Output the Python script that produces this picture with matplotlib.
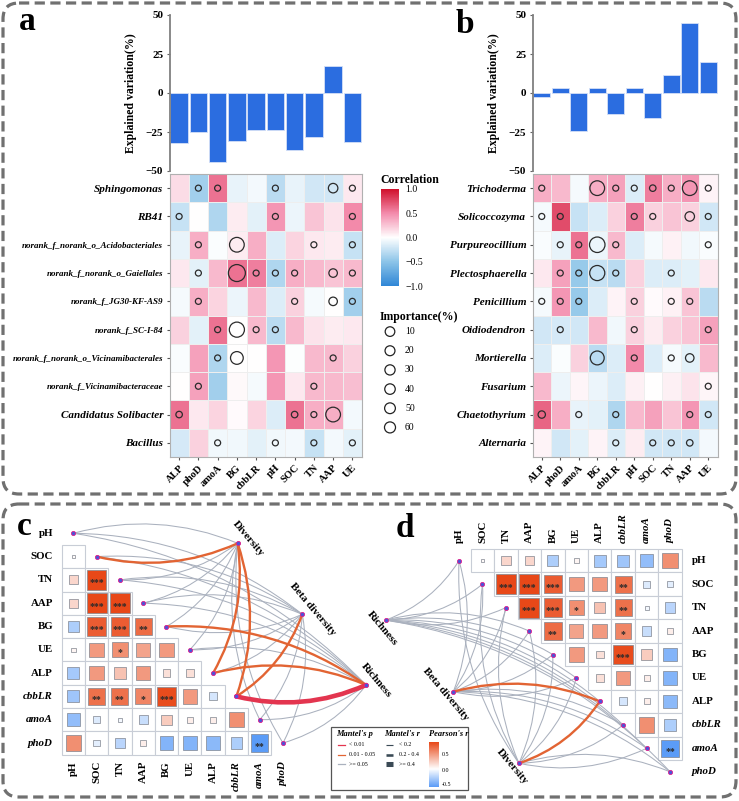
import numpy as np
import matplotlib
matplotlib.use('Agg')
import matplotlib.pyplot as plt
from matplotlib.colors import LinearSegmentedColormap, Normalize
from matplotlib.patches import FancyBboxPatch, Rectangle, PathPatch
from matplotlib.path import Path
import matplotlib.cm as cm

SERIF = ['Liberation Serif', 'DejaVu Serif']
plt.rcParams['font.family'] = SERIF
plt.rcParams['font.weight'] = 'bold'

# ---------------- data ----------------
factors_ab = ['ALP', 'phoD', 'amoA', 'BG', 'cbbLR', 'pH', 'SOC', 'TN', 'AAP', 'UE']

bact_taxa = ['Sphingomonas', 'RB41', 'norank_f_norank_o_Acidobacteriales',
             'norank_f_norank_o_Gaiellales', 'norank_f_JG30-KF-AS9', 'norank_f_SC-I-84',
             'norank_f_norank_o_Vicinamibacterales', 'norank_f_Vicinamibacteraceae',
             'Candidatus Solibacter', 'Bacillus']
bact_variation = [-32, -25, -44.5, -30.5, -24, -23.5, -36.5, -28, 17, -31.5]
bact_corr = [
    [0.15, -0.40, 0.60, -0.10, -0.05, -0.30, -0.10, -0.20, -0.20, 0.10],
    [-0.25, 0.00, -0.35, 0.08, -0.12, 0.45, -0.08, 0.25, 0.12, 0.50],
    [-0.10, 0.35, -0.02, 0.08, 0.35, -0.15, 0.18, 0.10, 0.08, -0.25],
    [0.10, -0.12, 0.30, 0.60, 0.55, -0.35, 0.35, 0.30, 0.25, 0.30],
    [-0.04, 0.35, 0.18, -0.08, 0.30, -0.15, 0.20, -0.04, 0.00, -0.40],
    [0.20, -0.12, 0.60, 0.00, 0.30, -0.30, 0.30, 0.12, 0.08, 0.10],
    [-0.03, 0.40, -0.35, 0.00, 0.00, 0.45, -0.01, 0.30, 0.30, 0.20],
    [0.00, 0.40, -0.40, 0.03, -0.04, 0.45, 0.10, 0.30, 0.30, 0.28],
    [0.60, 0.10, 0.18, 0.02, 0.18, -0.15, 0.60, 0.35, 0.35, -0.05],
    [-0.18, 0.20, -0.06, -0.06, -0.12, -0.06, -0.05, -0.25, -0.05, -0.12],
]
bact_importance = [
    [0, 6, 6, 0, 0, 6, 0, 0, 15, 6],
    [6, 0, 0, 0, 0, 6, 0, 0, 0, 6],
    [0, 6, 0, 36, 0, 0, 0, 6, 0, 6],
    [0, 6, 0, 48, 6, 6, 6, 0, 12, 6],
    [0, 6, 0, 0, 0, 0, 6, 0, 12, 6],
    [0, 0, 6, 38, 6, 6, 0, 0, 0, 0],
    [0, 0, 6, 27, 0, 0, 0, 0, 6, 0],
    [0, 6, 0, 0, 0, 0, 0, 6, 0, 0],
    [7, 0, 0, 0, 0, 0, 7, 6, 36, 0],
    [0, 0, 6, 0, 0, 6, 0, 6, 0, 6],
]

fungi_taxa = ['Trichoderma', 'Solicoccozyma', 'Purpureocillium', 'Plectosphaerella',
              'Penicillium', 'Oidiodendron', 'Mortierella', 'Fusarium',
              'Chaetothyrium', 'Alternaria']
fungi_variation = [-2.5, 3, -24.5, 3, -13.5, 3, -16, 11.5, 45, 20]
fungi_corr = [
    [0.35, 0.30, -0.04, 0.35, 0.40, -0.15, 0.55, 0.35, 0.45, 0.05],
    [-0.04, 0.75, -0.25, -0.15, 0.20, 0.55, 0.20, 0.25, 0.20, -0.20],
    [-0.03, -0.10, 0.60, -0.08, 0.30, -0.15, -0.04, 0.06, -0.06, -0.03],
    [0.10, 0.40, -0.45, -0.25, -0.30, 0.20, -0.15, -0.15, -0.12, 0.10],
    [-0.04, 0.45, -0.45, -0.15, 0.05, 0.20, 0.02, 0.06, 0.25, -0.30],
    [-0.20, -0.18, -0.20, 0.30, -0.06, 0.20, 0.08, 0.20, 0.25, 0.40],
    [-0.15, -0.02, 0.20, -0.30, -0.15, 0.50, -0.15, -0.04, -0.12, 0.30],
    [0.30, -0.08, 0.04, -0.08, -0.15, 0.07, 0.00, 0.07, 0.12, 0.04],
    [0.65, 0.35, -0.10, -0.12, -0.35, 0.30, 0.40, 0.25, 0.45, -0.20],
    [0.05, -0.20, -0.12, 0.05, -0.15, 0.08, -0.20, -0.20, -0.20, -0.05],
]
fungi_importance = [
    [6, 0, 0, 36, 6, 6, 7, 6, 36, 6],
    [6, 6, 0, 0, 0, 6, 6, 0, 15, 6],
    [0, 6, 6, 40, 6, 0, 0, 0, 0, 6],
    [0, 6, 6, 38, 6, 0, 0, 6, 0, 0],
    [6, 6, 6, 0, 0, 6, 0, 6, 6, 0],
    [0, 6, 0, 0, 0, 6, 0, 0, 0, 6],
    [0, 0, 0, 32, 0, 6, 0, 6, 12, 0],
    [0, 0, 0, 0, 0, 0, 0, 0, 0, 6],
    [9, 0, 6, 0, 6, 0, 0, 0, 6, 6],
    [0, 0, 0, 0, 6, 0, 6, 6, 7, 0],
]

env = ['pH', 'SOC', 'TN', 'AAP', 'BG', 'UE', 'ALP', 'cbbLR', 'amoA', 'phoD']
env_italic = ['cbbLR', 'amoA', 'phoD']
# lower triangle of Pearson's r (row i, columns 0..i-1)
pearson_lower = [
    [],
    [0.02],
    [0.20, 0.92],
    [0.20, 0.95, 0.95],
    [-0.30, 0.80, 0.80, 0.72],
    [0.05, 0.50, 0.55, 0.45, 0.50],
    [-0.33, 0.50, 0.30, 0.50, 0.15, 0.15],
    [-0.35, 0.70, 0.70, 0.60, 0.88, 0.50, -0.15],
    [-0.40, -0.12, -0.04, -0.20, 0.25, 0.08, 0.08, 0.55],
    [0.55, -0.10, -0.25, 0.08, -0.45, -0.45, -0.42, -0.30, -0.70],
]
pearson_sig = [
    [],
    [''],
    ['', '***'],
    ['', '***', '***'],
    ['', '***', '***', '**'],
    ['', '', '*', '', ''],
    ['', '', '', '', '', ''],
    ['', '**', '**', '*', '***', '', ''],
    ['', '', '', '', '', '', '', ''],
    ['', '', '', '', '', '', '', '', '**'],
]
targets = ['Diversity', 'Beta diversity', 'Richness']
# Mantel's p class: 0 = >=0.05, 1 = 0.01-0.05, 2 = <0.01 ; per env in order of `env`
c_mantel_p = [
    [0, 1, 0, 0, 0, 0, 1, 1, 0, 0],
    [0, 0, 0, 0, 0, 0, 0, 1, 0, 0],
    [0, 0, 0, 0, 1, 0, 1, 2, 0, 0],
]
# Mantel's r class: 0 = <0.2, 1 = 0.2-0.4, 2 = >=0.4
c_mantel_r = [
    [0, 1, 0, 0, 0, 0, 1, 1, 0, 0],
    [0, 0, 0, 0, 0, 0, 0, 1, 0, 0],
    [0, 0, 0, 0, 1, 0, 1, 2, 0, 0],
]
d_mantel_p = [
    [0, 0, 0, 0, 0, 0, 1, 0, 0, 0],
    [0, 0, 0, 0, 0, 0, 1, 0, 0, 0],
    [0, 0, 0, 0, 0, 0, 0, 0, 0, 0],
]
d_mantel_r = [
    [0, 0, 0, 0, 0, 0, 1, 0, 0, 0],
    [0, 0, 0, 0, 0, 0, 1, 0, 0, 0],
    [0, 0, 0, 0, 0, 0, 0, 0, 0, 0],
]
importance_legend = [10, 20, 30, 40, 50, 60]

# ---------------- figure ----------------
W, H = 739, 801
fig = plt.figure(figsize=(W / 100, H / 100), dpi=100)


def px_axes(x0, y0, x1, y1, **kw):
    return fig.add_axes([x0 / W, 1 - y1 / H, (x1 - x0) / W, (y1 - y0) / H], **kw)


# background overlay: dashed boxes + panel letters
ov = px_axes(0, 0, W, H)
ov.set_xlim(0, W)
ov.set_ylim(H, 0)
ov.axis('off')
for (x0, y0, x1, y1) in [(3, 3, 736, 494), (3, 504, 736, 797)]:
    ov.add_patch(FancyBboxPatch((x0, y0), x1 - x0, y1 - y0,
                                boxstyle='round,pad=0,rounding_size=16', fill=False,
                                edgecolor='#707070', lw=2.3, linestyle=(0, (3.2, 1.7))))
for lab, x, y in [('a', 19, 30), ('b', 456, 33), ('c', 17, 535), ('d', 396, 537)]:
    ov.text(x, y, lab, fontsize=24, fontweight='bold', ha='left', va='baseline')

heat_cmap = LinearSegmentedColormap.from_list(
    'corr', [(0, '#2f86d6'), (0.25, '#8cc4e8'), (0.5, '#ffffff'),
             (0.75, '#f38bac'), (1, '#d0102c')])
BAR = '#2b6de0'


def imp_to_s(v):
    d_px = 2.45 * np.sqrt(v)
    return (d_px * 0.72) ** 2


def heat_panel(x0, x1, taxa, variation, corr, imp):
    axb = px_axes(x0, 15, x1, 171)
    axb.bar(np.arange(len(variation)), variation, width=0.9, color=BAR,
            edgecolor='#d4e0f7', linewidth=0.6)
    axb.set_xlim(-0.5, len(variation) - 0.5)
    axb.set_ylim(-50, 50)
    for s in ['top', 'right', 'bottom']:
        axb.spines[s].set_visible(False)
    axb.spines['left'].set_color('#808080')
    axb.spines['left'].set_linewidth(1.3)
    axb.set_xticks([])
    axb.set_yticks([-50, -25, 0, 25, 50])
    axb.set_yticklabels(['\u221250', '\u221225', '0', '25', '50'], fontsize=8, fontweight='bold')
    axb.tick_params(axis='y', length=2.5, color='#666666', pad=2)
    axb.set_ylabel('Explained variation(%)', fontsize=8.5, fontweight='bold', labelpad=6)
    axb.patch.set_alpha(0)

    axh = px_axes(x0, 174, x1, 457)
    C = np.array(corr)
    n_r, n_c = C.shape
    axh.pcolormesh(np.arange(n_c + 1) - 0.5, np.arange(n_r + 1) - 0.5, C,
                   cmap=heat_cmap, vmin=-1, vmax=1, edgecolors='#eeeeee', linewidth=0.6)
    I = np.array(imp, dtype=float)
    rr, cc = np.nonzero(I)
    axh.scatter(cc, rr, s=imp_to_s(I[rr, cc]), facecolors='none', edgecolors='#2b2b2b',
                linewidths=0.9, zorder=3)
    axh.set_xlim(-0.5, n_c - 0.5)
    axh.set_ylim(n_r - 0.5, -0.5)
    axh.set_xticks(range(n_c))
    axh.set_xticklabels(factors_ab, rotation=45, ha='right', rotation_mode='anchor',
                        fontsize=7.5, fontweight='bold')
    axh.set_yticks(range(n_r))
    axh.set_yticklabels(taxa, fontsize=8, fontweight='bold', fontstyle='italic')
    for t in axh.get_yticklabels():
        if t.get_text().startswith('norank'):
            t.set_fontsize(6.5)
    axh.tick_params(length=2.5, color='#555555', pad=2)
    for s in axh.spines.values():
        s.set_color('#b0b0b0')
        s.set_linewidth(0.8)
    return axh


heat_panel(169.5, 362, bact_taxa, bact_variation, bact_corr, bact_importance)
heat_panel(532.5, 717.5, fungi_taxa, fungi_variation, fungi_corr, fungi_importance)

# Correlation colorbar legend
cax = px_axes(380.5, 189, 398.5, 286)
cb = fig.colorbar(cm.ScalarMappable(norm=Normalize(-1, 1), cmap=heat_cmap), cax=cax,
                  ticks=[-1, -0.5, 0, 0.5, 1])
cb.outline.set_visible(False)
cb.ax.set_yticklabels(['\u22121.0', '\u22120.5', '0.0', '0.5', '1.0'])
cb.ax.tick_params(length=3, color='white', labelsize=7, pad=2)
for t in cb.ax.get_yticklabels():
    t.set_fontweight('normal')
ov.text(380, 180, 'Correlation', fontsize=8.5, fontweight='bold', va='center', ha='left')

# Importance legend
ov.text(380, 317, 'Importance(%)', fontsize=8.5, fontweight='bold', va='center', ha='left')
lg = px_axes(380, 322, 430, 437)
lg.set_xlim(0, 1)
lg.set_ylim(len(importance_legend) - 0.5, -0.5)
lg.axis('off')
for k, v in enumerate(importance_legend):
    lg.scatter([0.2], [k], s=48 + k * 3, facecolors='none', edgecolors='#222222', linewidths=0.9)
    lg.text(0.5, k, str(v), fontsize=7, fontweight='normal', va='center', ha='left')

# ---------------- panels c and d ----------------
p_cmap = LinearSegmentedColormap.from_list(
    'pear', [(0, '#5b9cf7'), (0.4, '#ffffff'), (1, '#e84818')])
p_norm = Normalize(-0.6, 0.9)
GRID = '#c8cdd6'
P_COL = ['#aab1be', '#e26433', '#e3354f']
R_LW = [0.75, 1.7, 3.3]
NODE_FC = '#4a55d8'
NODE_EC = '#e0208c'


def R(i, j):
    if i == j:
        return None
    if j < i:
        return pearson_lower[i][j], pearson_sig[i][j]
    return pearson_lower[j][i], pearson_sig[j][i]


def draw_matrix(ax, lower):
    n = len(env)
    for i in range(n):
        for j in range(n):
            if (lower and j < i) or ((not lower) and j > i):
                r, sig = R(i, j)
                ax.add_patch(Rectangle((j - 0.5, i - 0.5), 1, 1, facecolor='white',
                                       edgecolor=GRID, lw=0.8, zorder=1))
                side = 0.88 * np.sqrt(abs(r))
                ax.add_patch(Rectangle((j - side / 2, i - side / 2), side, side,
                                       facecolor=p_cmap(p_norm(r)), edgecolor='#80858f',
                                       lw=0.5, zorder=2))
                if sig:
                    ax.text(j, i + 0.13, sig, ha='center', va='center', fontsize=7,
                            color='#2a2a2a', zorder=3)


def link(ax, p0, p1, side, color, lw, k=0.17, z=4):
    x0, y0 = p0
    x1, y1 = p1
    dx, dy = x1 - x0, y1 - y0
    sg = np.sign(dx * dy) or 1.0
    bx, by = side * sg * dy, side * sg * (-dx)
    cx, cy = (x0 + x1) / 2 + k * bx, (y0 + y1) / 2 + k * by
    path = Path([(x0, y0), (cx, cy), (x1, y1)], [Path.MOVETO, Path.CURVE3, Path.CURVE3])
    ax.add_patch(PathPatch(path, facecolor='none', edgecolor=color, lw=lw, zorder=z,
                           capstyle='round', clip_on=False))


def draw_links(ax, nodes, mp, mr, side):
    order = []
    for t in range(len(targets)):
        for e in range(len(env)):
            order.append((mp[t][e], t, e))
    order.sort()
    for p, t, e in order:
        link(ax, nodes[t], (e, e), side, P_COL[p], R_LW[mr[t][e]], z=4 + p)
    ex = np.arange(len(env))
    ax.scatter(ex, ex, s=9, c=NODE_FC, edgecolors=NODE_EC, linewidths=0.6, zorder=9,
               clip_on=False)
    nx = [p[0] for p in nodes]
    ny = [p[1] for p in nodes]
    ax.scatter(nx, ny, s=9, c=NODE_FC, edgecolors=NODE_EC, linewidths=0.6, zorder=9,
               clip_on=False)


def env_style(name):
    return 'italic' if name in env_italic else 'normal'


# panel c (lower triangle)
U = 23.3
cx0, cy0 = 73.3, 533.3
axc = px_axes(0, 505, 380, 800)
axc.set_xlim((0 - cx0) / U, (380 - cx0) / U)
axc.set_ylim((800 - cy0) / U, (505 - cy0) / U)
axc.axis('off')
draw_matrix(axc, True)
c_nodes = [((237.7 - cx0) / U, (543.3 - cy0) / U),
           ((302.3 - cx0) / U, (614.3 - cy0) / U),
           ((366.0 - cx0) / U, (685.0 - cy0) / U)]
draw_links(axc, c_nodes, c_mantel_p, c_mantel_r, -1)
for i, name in enumerate(env):
    axc.text((53 - cx0) / U, i, name, ha='right', va='center', fontsize=7.8,
             fontweight='bold', fontstyle=env_style(name))
    axc.text(i, (761 - cy0) / U, name, ha='center', va='top', rotation=90, fontsize=7.8,
             fontweight='bold', fontstyle=env_style(name))
for (nx, ny), name in zip(c_nodes, targets):
    axc.text(nx + 10 / U, ny - 5 / U, name, rotation=-50, ha='center', va='center',
             fontsize=8, fontweight='bold', rotation_mode='anchor', zorder=10)

# panel d (upper triangle)
U2 = 23.45
dx0, dy0 = 459.0, 560.7
axd = px_axes(380, 505, 739, 800)
axd.set_xlim((380 - dx0) / U2, (739 - dx0) / U2)
axd.set_ylim((800 - dy0) / U2, (505 - dy0) / U2)
axd.axis('off')
draw_matrix(axd, False)
d_nodes = [((519.0 - dx0) / U2, (763.3 - dy0) / U2),
           ((453.3 - dx0) / U2, (691.7 - dy0) / U2),
           ((386.0 - dx0) / U2, (620.0 - dy0) / U2)]
draw_links(axd, d_nodes, d_mantel_p, d_mantel_r, 1)
for i, name in enumerate(env):
    axd.text((691.7 - dx0) / U2, i, name, ha='left', va='center', fontsize=7.8,
             fontweight='bold', fontstyle=env_style(name))
    axd.text(i, (542.7 - dy0) / U2, name, ha='center', va='bottom', rotation=90,
             fontsize=7.8, fontweight='bold', fontstyle=env_style(name))
d_off = [(-7, 3), (-8, 3), (-4, 8)]
for (nx, ny), name, (ox, oy) in zip(d_nodes, targets, d_off):
    axd.text(nx + ox / U2, ny + oy / U2, name, rotation=-50, ha='center', va='center',
             fontsize=8, fontweight='bold', rotation_mode='anchor', zorder=10)

# ---------------- Mantel legend ----------------
lgd = px_axes(0, 0, W, H)
lgd.set_xlim(0, W)
lgd.set_ylim(H, 0)
lgd.axis('off')
lgd.add_patch(Rectangle((331, 727), 137, 63, facecolor='white', edgecolor='#555555', lw=0.9))
lgd.text(336, 734, "Mantel's p", fontsize=6, fontweight='bold', fontstyle='italic', va='center')
lgd.text(384, 734, "Mantel's r", fontsize=6, fontweight='bold', fontstyle='italic', va='center')
lgd.text(429, 734, "Pearson's r", fontsize=6, fontweight='bold', fontstyle='italic', va='center')
for k, (col, lab) in enumerate(zip(P_COL[::-1], ['< 0.01', '0.01 - 0.05', '>= 0.05'])):
    y = 745 + k * 9.5
    lgd.plot([338, 345], [y, y], color=col, lw=0.9)
    lgd.text(349, y, lab, fontsize=4.3, fontweight='normal', va='center')
for k, (lw, lab) in enumerate(zip(R_LW, ['< 0.2', '0.2 - 0.4', '>= 0.4'])):
    y = 745 + k * 9.5
    lgd.plot([386, 393], [y, y], color='#3a4a55', lw=lw * 1.1, solid_capstyle='butt')
    lgd.text(399, y, lab, fontsize=4.3, fontweight='normal', va='center')
grad = np.linspace(-0.6, 0.9, 200).reshape(-1, 1)
lgd.imshow(grad, cmap=p_cmap, norm=p_norm, aspect='auto', origin='lower',
           extent=(429, 439, 786.7, 741.7), zorder=3)
for v, y in [(0.5, 754), (0.0, 770), (-0.5, 784.7)]:
    lgd.text(442, y, f'{v:.1f}', fontsize=4.3, fontweight='normal', va='center')
lgd.set_xlim(0, W)
lgd.set_ylim(H, 0)

fig.savefig('out.png', dpi=100)
